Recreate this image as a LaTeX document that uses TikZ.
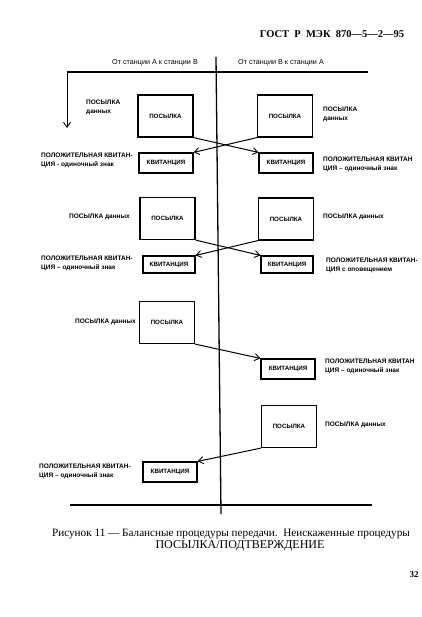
\documentclass[tikz,border=0pt]{standalone}
\usepackage{fontspec}
\setmainfont{Liberation Serif}
\newfontfamily\labfont{Liberation Sans}
\usetikzlibrary{arrows.meta}
\tikzset{
  lab/.style={font=\labfont\bfseries\fontsize{6.5}{8.8}\selectfont, inner sep=0pt, anchor=west, align=left},
  hdr/.style={font=\labfont\fontsize{7.2}{8}\selectfont, inner sep=0pt},
  pbox/.style={draw, line width=1.2pt, minimum width=55pt, minimum height=42pt, inner sep=0pt, font=\labfont\bfseries\fontsize{6.2}{8}\selectfont},
  kbox/.style={draw, line width=1.2pt, minimum width=54pt, minimum height=20pt, inner sep=0pt, font=\labfont\bfseries\fontsize{6.2}{8}\selectfont},
  msg/.style={line width=1pt, -{Straight Barb[length=5pt,width=7pt,line width=0.9pt]}},
  axis/.style={line width=1.3pt}
}
\begin{document}
\begin{tikzpicture}[x=1pt,y=-1pt]
\useasboundingbox[fill=white] (0,0) rectangle (422,617);
% header
\node[font=\bfseries\fontsize{10.5}{12}\selectfont, inner sep=0pt] (gost) at (332,34) {ГОСТ\ \ Р\ \ МЭК\ \ 870—5—2—95};
\node[hdr] (hA) at (155,63) {От станции А к станции В};
\node[hdr] (hB) at (281,63) {От станции В к станции А};
% axes
\coordinate (tl) at (67,72);
\coordinate (tr) at (368,72);
\coordinate (ta) at (67,128);
\coordinate (ct) at (216,57);
\coordinate (cb) at (221,514);
\coordinate (bl) at (70,505);
\coordinate (br) at (372,505);
\draw[axis] (tr) -- (tl);
\draw[line width=1pt, -{Straight Barb[length=5pt,width=7pt,line width=0.9pt]}] (tl) -- (ta);
\draw[axis] (ct) -- (cb);
\draw[axis] (bl) -- (br);
% block 1
\node[pbox] (p1l) at (165.5,116) {ПОСЫЛКА};
\node[pbox] (p1r) at (285,116) {ПОСЫЛКА};
\node[kbox] (k1l) at (166,163) {КВИТАНЦИЯ};
\node[kbox] (k1r) at (286,163) {КВИТАНЦИЯ};
\node[lab] (t1l) at (86,107) {ПОСЫЛКА\\данных};
\node[lab] (t1r) at (323,114) {ПОСЫЛКА\\данных};
\node[lab] (q1l) at (41,160.5) {ПОЛОЖИТЕЛЬНАЯ КВИТАН-\\ЦИЯ - одиночный знак};
\node[lab] (q1r) at (323,164) {ПОЛОЖИТЕЛЬНАЯ КВИТАН\\ЦИЯ – одиночный знак};
\draw[msg] (p1l.south east) -- (k1r.north west);
\draw[msg] (p1r.south west) -- (k1l.north east);
% block 2
\node[pbox] (p2l) at (167.5,218.5) {ПОСЫЛКА};
\node[pbox] (p2r) at (286,219) {ПОСЫЛКА};
\node[kbox, minimum width=52pt, minimum height=17pt] (k2l) at (169,264.5) {КВИТАНЦИЯ};
\node[kbox, minimum width=52pt, minimum height=17pt] (k2r) at (287,264.5) {КВИТАНЦИЯ};
\node[lab] (t2l) at (69,217) {ПОСЫЛКА данных};
\node[lab] (t2r) at (323,217) {ПОСЫЛКА данных};
\node[lab] (q2l) at (41,263) {ПОЛОЖИТЕЛЬНАЯ КВИТАН-\\ЦИЯ – одиночный знак};
\node[lab] (q2r) at (326,265) {ПОЛОЖИТЕЛЬНАЯ КВИТАН-\\ЦИЯ с оповещением};
\draw[msg] (p2l.south east) -- (k2r.north west);
\draw[msg] (p2r.south west) -- (k2l.north east);
% block 3
\node[pbox] (p3l) at (167,322.5) {ПОСЫЛКА};
\node[kbox] (k3r) at (288,369) {КВИТАНЦИЯ};
\node[lab] (t3l) at (75,322) {ПОСЫЛКА данных};
\node[lab] (q3r) at (325,366) {ПОЛОЖИТЕЛЬНАЯ КВИТАН\\ЦИЯ – одиночный знак};
\draw[msg] (p3l.south east) -- (k3r.north west);
% block 4
\node[pbox] (p4r) at (289,426.5) {ПОСЫЛКА};
\node[kbox] (k4l) at (170,472) {КВИТАНЦИЯ};
\node[lab] (t4r) at (325,425) {ПОСЫЛКА данных};
\node[lab] (q4l) at (39,471.5) {ПОЛОЖИТЕЛЬНАЯ КВИТАН-\\ЦИЯ – одиночный знак};
\draw[msg] (p4r.south west) -- (k4l.north east);
% caption
\node[font=\fontsize{11.2}{12}\selectfont, inner sep=0pt] (cap1) at (231,534) {Рисунок 11 — Балансные процедуры передачи.\ \ Неискаженные процедуры};
\node[font=\fontsize{12}{13}\selectfont, inner sep=0pt] (cap2) at (240,546) {ПОСЫЛКА/ПОДТВЕРЖДЕНИЕ};
\node[font=\bfseries\fontsize{9}{10}\selectfont, inner sep=0pt] (pg) at (414,575) {32};
\end{tikzpicture}
\end{document}
